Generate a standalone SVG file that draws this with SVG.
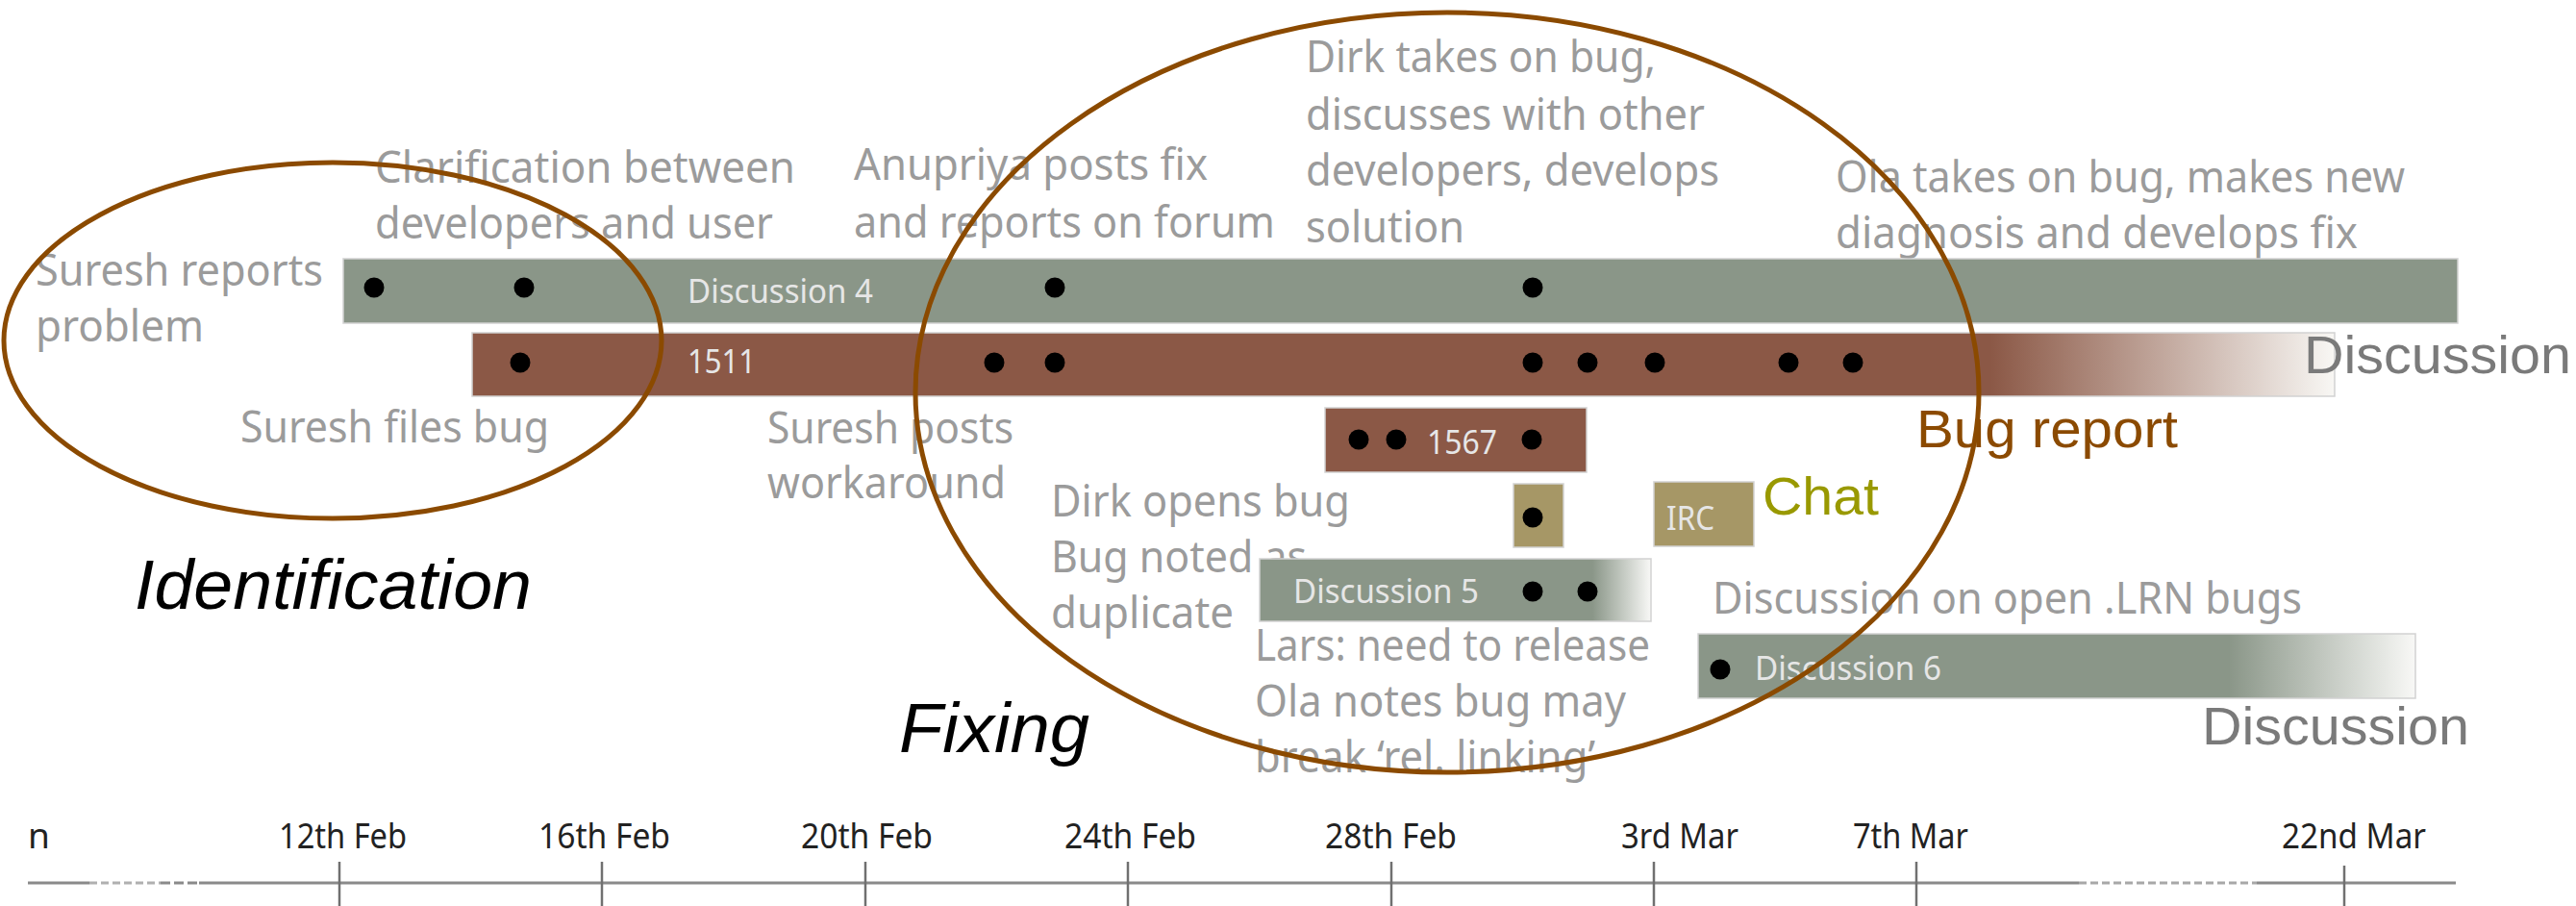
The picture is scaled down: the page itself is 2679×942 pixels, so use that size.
<svg xmlns="http://www.w3.org/2000/svg" width="2679" height="942" viewBox="0 0 2679 942">
  <style>
    .note { font-family: "Noto Sans", "Open Sans", sans-serif; font-size: 46px; fill: #9b9b9b; }
    .barlbl { font-family: "Noto Sans", "Open Sans", sans-serif; font-size: 34px; fill: #e6e6e6; }
    .axislbl { font-family: "Noto Sans", "Open Sans", sans-serif; font-size: 37px; fill: #222; }
    .phase { font-family: "Liberation Sans", Arial, sans-serif; font-size: 72px; font-style: italic; fill: #000; }
    .legend { font-family: "Liberation Sans", Arial, sans-serif; font-size: 56px; }
    .dot { fill: #000; }
    .bar { stroke: #d2d2d2; stroke-width: 1.5; }
    .green { fill: #8a9688; }
    .brown { fill: #8b5846; }
    .tan { fill: #a69766; }
    .ring { fill: none; stroke: #8b4a00; stroke-width: 5; }
    .tick { stroke: #707070; stroke-width: 2.5; }
  </style>
  <defs>
    <linearGradient id="fadeBug" gradientUnits="userSpaceOnUse" x1="2070" y1="0" x2="2428" y2="0">
      <stop offset="0" stop-color="#8b5846"/>
      <stop offset="1" stop-color="#f8f7f4"/>
    </linearGradient>
    <linearGradient id="fadeD5" gradientUnits="userSpaceOnUse" x1="1656" y1="0" x2="1717" y2="0">
      <stop offset="0" stop-color="#8a9688"/>
      <stop offset="1" stop-color="#f8f8f6"/>
    </linearGradient>
    <linearGradient id="fadeD6" gradientUnits="userSpaceOnUse" x1="2318" y1="0" x2="2512" y2="0">
      <stop offset="0" stop-color="#8a9688"/>
      <stop offset="1" stop-color="#f8f8f6"/>
    </linearGradient>
  </defs>

  <rect width="2679" height="942" fill="#fff"/>

  <!-- event notes -->
  <g id="notes">
    <text class="note" x="390" y="190" textLength="437" lengthAdjust="spacingAndGlyphs">Clarification between</text>
    <text class="note" x="390" y="248" textLength="414" lengthAdjust="spacingAndGlyphs">developers and user</text>
    <text class="note" x="37" y="297" textLength="299" lengthAdjust="spacingAndGlyphs">Suresh reports</text>
    <text class="note" x="37" y="355" textLength="175" lengthAdjust="spacingAndGlyphs">problem</text>
    <text class="note" x="250" y="460" textLength="321" lengthAdjust="spacingAndGlyphs">Suresh files bug</text>
    <text class="note" x="888" y="187" textLength="368" lengthAdjust="spacingAndGlyphs">Anupriya posts fix</text>
    <text class="note" x="888" y="247" textLength="438" lengthAdjust="spacingAndGlyphs">and reports on forum</text>
    <text class="note" x="1358" y="75" textLength="364" lengthAdjust="spacingAndGlyphs">Dirk takes on bug,</text>
    <text class="note" x="1358" y="135" textLength="415" lengthAdjust="spacingAndGlyphs">discusses with other</text>
    <text class="note" x="1358" y="193" textLength="430" lengthAdjust="spacingAndGlyphs">developers, develops</text>
    <text class="note" x="1358" y="252" textLength="165" lengthAdjust="spacingAndGlyphs">solution</text>
    <text class="note" x="1909" y="200" textLength="592" lengthAdjust="spacingAndGlyphs">Ola takes on bug, makes new</text>
    <text class="note" x="1909" y="258" textLength="543" lengthAdjust="spacingAndGlyphs">diagnosis and develops fix</text>
    <text class="note" x="798" y="461" textLength="256" lengthAdjust="spacingAndGlyphs">Suresh posts</text>
    <text class="note" x="798" y="518" textLength="248" lengthAdjust="spacingAndGlyphs">workaround</text>
    <text class="note" x="1093" y="537" textLength="311" lengthAdjust="spacingAndGlyphs">Dirk opens bug</text>
    <text class="note" x="1093" y="595" textLength="266" lengthAdjust="spacingAndGlyphs">Bug noted as</text>
    <text class="note" x="1093" y="653" textLength="190" lengthAdjust="spacingAndGlyphs">duplicate</text>
    <text class="note" x="1305" y="687" textLength="411" lengthAdjust="spacingAndGlyphs">Lars: need to release</text>
    <text class="note" x="1305" y="745" textLength="386" lengthAdjust="spacingAndGlyphs">Ola notes bug may</text>
    <text class="note" x="1305" y="803" textLength="354" lengthAdjust="spacingAndGlyphs">break ‘rel. linking’</text>
    <text class="note" x="1781" y="638" textLength="613" lengthAdjust="spacingAndGlyphs">Discussion on open .LRN bugs</text>
  </g>

  <!-- Discussion 4 thread -->
  <g id="discussion4">
    <rect class="bar green" x="357" y="269" width="2199" height="67"/>
    <text class="barlbl" x="715" y="315" textLength="193" lengthAdjust="spacingAndGlyphs">Discussion 4</text>
    <circle class="dot" cx="389" cy="299" r="10.5"/>
    <circle class="dot" cx="545" cy="299" r="10.5"/>
    <circle class="dot" cx="1097" cy="299" r="10.5"/>
    <circle class="dot" cx="1594" cy="299" r="10.5"/>
  </g>

  <!-- Bug report 1511 -->
  <g id="bug1511">
    <rect class="bar" x="491" y="346" width="1937" height="66" fill="url(#fadeBug)"/>
    <text class="barlbl" x="715" y="388" textLength="71" lengthAdjust="spacingAndGlyphs">1511</text>
    <circle class="dot" cx="541" cy="377" r="10.5"/>
    <circle class="dot" cx="1034" cy="377" r="10.5"/>
    <circle class="dot" cx="1097" cy="377" r="10.5"/>
    <circle class="dot" cx="1594" cy="377" r="10.5"/>
    <circle class="dot" cx="1651" cy="377" r="10.5"/>
    <circle class="dot" cx="1721" cy="377" r="10.5"/>
    <circle class="dot" cx="1860" cy="377" r="10.5"/>
    <circle class="dot" cx="1927" cy="377" r="10.5"/>
  </g>

  <!-- Bug report 1567 -->
  <g id="bug1567">
    <rect class="bar brown" x="1378" y="424" width="272" height="67"/>
    <circle class="dot" cx="1413" cy="457" r="10.5"/>
    <circle class="dot" cx="1452" cy="457" r="10.5"/>
    <text class="barlbl" x="1484" y="472" textLength="73" lengthAdjust="spacingAndGlyphs">1567</text>
    <circle class="dot" cx="1593" cy="457" r="10.5"/>
  </g>

  <!-- chat sessions -->
  <g id="chat">
    <rect class="bar tan" x="1574" y="503" width="52" height="66"/>
    <circle class="dot" cx="1594" cy="538" r="10.5"/>
  </g>
  <g id="irc">
    <rect class="bar tan" x="1720" y="501" width="104" height="67"/>
    <text class="barlbl" x="1733" y="551" textLength="50" lengthAdjust="spacingAndGlyphs">IRC</text>
  </g>

  <!-- Discussion 5 thread -->
  <g id="discussion5">
    <rect class="bar" x="1310" y="581" width="407" height="65" fill="url(#fadeD5)"/>
    <text class="barlbl" x="1345" y="627" textLength="193" lengthAdjust="spacingAndGlyphs">Discussion 5</text>
    <circle class="dot" cx="1594" cy="615" r="10.5"/>
    <circle class="dot" cx="1651" cy="615" r="10.5"/>
  </g>

  <!-- Discussion 6 thread -->
  <g id="discussion6">
    <rect class="bar" x="1766" y="659" width="746" height="67" fill="url(#fadeD6)"/>
    <circle class="dot" cx="1789" cy="696" r="10.5"/>
    <text class="barlbl" x="1825" y="707" textLength="194" lengthAdjust="spacingAndGlyphs">Discussion 6</text>
  </g>

  <!-- legend labels -->
  <g id="legend">
    <text class="legend" x="2396" y="388" fill="#7a7a7a" textLength="278" lengthAdjust="spacingAndGlyphs">Discussion</text>
    <text class="legend" x="1993" y="465" fill="#8b4a00" textLength="272" lengthAdjust="spacingAndGlyphs">Bug report</text>
    <text class="legend" x="1833" y="535" fill="#999900" textLength="121" lengthAdjust="spacingAndGlyphs">Chat</text>
    <text class="legend" x="2290" y="774" fill="#7a7a7a" textLength="278" lengthAdjust="spacingAndGlyphs">Discussion</text>
  </g>

  <!-- phases -->
  <g id="identification">
    <ellipse class="ring" cx="346" cy="354" rx="342" ry="185"/>
    <text class="phase" x="140" y="633" textLength="413" lengthAdjust="spacingAndGlyphs">Identification</text>
  </g>
  <g id="fixing">
    <ellipse class="ring" cx="1505" cy="408" rx="553" ry="395"/>
    <text class="phase" x="935" y="782" textLength="198" lengthAdjust="spacingAndGlyphs">Fixing</text>
  </g>

  <!-- time axis -->
  <g id="axis">
    <line x1="29" y1="918" x2="93" y2="918" stroke="#8a8a8a" stroke-width="3"/>
    <line x1="93" y1="918" x2="167" y2="918" stroke="#b0b0b0" stroke-width="3" stroke-dasharray="8 4"/>
    <line x1="167" y1="918" x2="207" y2="918" stroke="#8a8a8a" stroke-width="3" stroke-dasharray="10 4"/>
    <line x1="207" y1="918" x2="2162" y2="918" stroke="#8a8a8a" stroke-width="3"/>
    <line x1="2162" y1="918" x2="2347" y2="918" stroke="#a8a8a8" stroke-width="3" stroke-dasharray="8 4"/>
    <line x1="2347" y1="918" x2="2554" y2="918" stroke="#8a8a8a" stroke-width="3"/>
    <line class="tick" x1="353" y1="896" x2="353" y2="942"/>
    <line class="tick" x1="626" y1="896" x2="626" y2="942"/>
    <line class="tick" x1="900" y1="896" x2="900" y2="942"/>
    <line class="tick" x1="1173" y1="896" x2="1173" y2="942"/>
    <line class="tick" x1="1447" y1="896" x2="1447" y2="942"/>
    <line class="tick" x1="1720" y1="896" x2="1720" y2="942"/>
    <line class="tick" x1="1993" y1="896" x2="1993" y2="942"/>
    <line class="tick" x1="2438" y1="900" x2="2438" y2="942"/>
    <text class="axislbl" x="29" y="882">n</text>
    <text class="axislbl" x="290" y="882" textLength="133" lengthAdjust="spacingAndGlyphs">12th Feb</text>
    <text class="axislbl" x="560" y="882" textLength="137" lengthAdjust="spacingAndGlyphs">16th Feb</text>
    <text class="axislbl" x="833" y="882" textLength="137" lengthAdjust="spacingAndGlyphs">20th Feb</text>
    <text class="axislbl" x="1107" y="882" textLength="137" lengthAdjust="spacingAndGlyphs">24th Feb</text>
    <text class="axislbl" x="1378" y="882" textLength="137" lengthAdjust="spacingAndGlyphs">28th Feb</text>
    <text class="axislbl" x="1686" y="882" textLength="122" lengthAdjust="spacingAndGlyphs">3rd Mar</text>
    <text class="axislbl" x="1927" y="882" textLength="120" lengthAdjust="spacingAndGlyphs">7th Mar</text>
    <text class="axislbl" x="2373" y="882" textLength="150" lengthAdjust="spacingAndGlyphs">22nd Mar</text>
  </g>
</svg>
